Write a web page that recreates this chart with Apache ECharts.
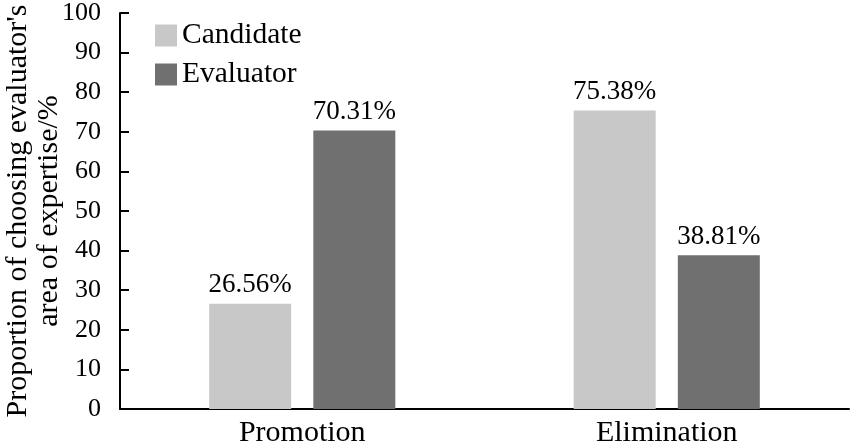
<!DOCTYPE html>
<html><head><meta charset="utf-8">
<script src="https://cdn.jsdelivr.net/npm/echarts@6/dist/echarts.min.js"></script>
<style>html,body{margin:0;padding:0;background:#fff}#c{width:850px;height:444px}</style>
</head><body><div id="c"></div>
<script>
const categories = ['Promotion', 'Elimination'];
const candidate = [26.56, 75.38];
const evaluator = [70.31, 38.81];
const yTicks = [0, 10, 20, 30, 40, 50, 60, 70, 80, 90, 100];
const seriesNames = ['Candidate', 'Evaluator'];
const yName = "Proportion of choosing evaluator's\narea of expertise/%";

const font = '"Liberation Serif", "Times New Roman", serif';
const chart = echarts.init(document.getElementById('c'));
const lbl = {show: true, position: 'top', distance: 5, color: '#000', fontFamily: font, fontSize: 27,
  formatter: p => p.value.toFixed(2) + '%'};
chart.setOption({
  animation: false,
  textStyle: {fontFamily: font},
  grid: {left: 120, right: 1, top: 13, bottom: 35, containLabel: false, outerBoundsMode: 'none'},
  legend: {
    data: seriesNames, left: 150, top: 15, orient: 'vertical', itemGap: 8,
    itemWidth: 22, itemHeight: 22, icon: 'rect',
    textStyle: {fontFamily: font, fontSize: 29.5, color: '#000', padding: [0,0,0,0], lineHeight: 31}
  },
  xAxis: {
    type: 'category', data: categories,
    axisLine: {lineStyle: {color: '#000', width: 2}},
    axisTick: {show: false},
    axisLabel: {color: '#000', fontFamily: font, fontSize: 30, margin: 9}
  },
  yAxis: {
    type: 'value', min: 0, max: 100, interval: 10,
    name: yName, nameLocation: 'middle', nameGap: 55, nameRotate: 90, nameMoveOverlap: false,
    nameTextStyle: {color: '#000', fontFamily: font, fontSize: 30, lineHeight: 31},
    axisLine: {show: true, lineStyle: {color: '#000', width: 2}},
    axisTick: {show: true, inside: true, length: 9, lineStyle: {color: '#000', width: 2}},
    splitLine: {show: false},
    axisLabel: {color: '#000', fontFamily: font, fontSize: 26, margin: 19,
      formatter: v => yTicks.includes(v) ? String(v) : ''}
  },
  series: [
    {name: seriesNames[0], type: 'bar', data: candidate, barWidth: 82, barGap: '27%',
     itemStyle: {color: '#c8c8c8'}, label: lbl},
    {name: seriesNames[1], type: 'bar', data: evaluator, barWidth: 82,
     itemStyle: {color: '#707070'}, label: lbl}
  ]
});
</script></body></html>
